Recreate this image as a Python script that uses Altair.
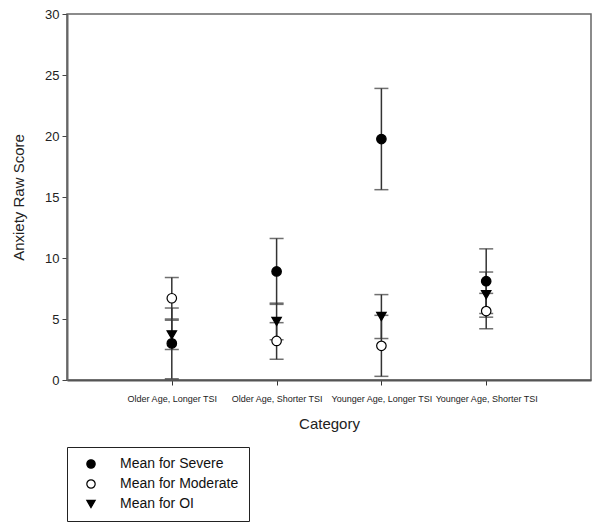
import altair as alt
import pandas as pd

categories = ["Older Age, Longer TSI", "Older Age, Shorter TSI",
              "Younger Age, Longer TSI", "Younger Age, Shorter TSI"]
series = ["Mean for Severe", "Mean for Moderate", "Mean for OI"]

severe_mean = [3.0, 8.9, 19.75, 8.1]
severe_err = [2.9, 2.7, 4.15, 2.65]
moderate_mean = [6.7, 3.2, 2.8, 5.65]
moderate_err = [1.7, 1.5, 2.5, 1.45]
oi_mean = [3.7, 4.8, 5.2, 7.0]
oi_err = [1.2, 1.5, 1.8, 1.85]

rows = []
for name, means, errs in [(series[0], severe_mean, severe_err),
                          (series[1], moderate_mean, moderate_err),
                          (series[2], oi_mean, oi_err)]:
    for i, (m, e) in enumerate(zip(means, errs)):
        rows.append({"pos": i + 1, "cat": categories[i], "series": name,
                     "mean": m, "lo": max(m - e, 0), "hi": m + e})
df = pd.DataFrame(rows)

label_expr = ("datum.value == 1 ? '%s' : datum.value == 2 ? '%s' : "
              "datum.value == 3 ? '%s' : datum.value == 4 ? '%s' : ''") % tuple(categories)

x = alt.X("pos:Q", scale=alt.Scale(domain=[0, 5], nice=False, zero=False),
          axis=alt.Axis(title="Category", values=[1, 2, 3, 4], labelExpr=label_expr,
                        grid=False, labelFont="Liberation Sans", labelFontSize=9,
                        labelOverlap=False, labelBound=False,
                        labelColor="#222", titleFont="Liberation Sans", titleFontSize=15,
                        titleFontWeight="normal", titleColor="#222", titlePadding=13,
                        domainColor="#555", domainWidth=2, tickColor="#333",
                        tickSize=5, labelPadding=9))
yscale = alt.Scale(domain=[0, 30], nice=False)
yaxis = alt.Axis(title="Anxiety Raw Score", values=[0, 5, 10, 15, 20, 25, 30], grid=False,
                 labelFont="Liberation Sans", labelFontSize=13, labelColor="#222",
                 titleFont="Liberation Sans", titleFontSize=15, titleFontWeight="normal",
                 titleColor="#222", titlePadding=18, domainColor="#666", domainWidth=2,
                 tickColor="#444", tickSize=5, labelPadding=3)

base = alt.Chart(df)

rules = base.mark_rule(color="#333", strokeWidth=1.5).encode(
    x=x, y=alt.Y("lo:Q", scale=yscale, axis=yaxis), y2="hi:Q")
caps_hi = base.mark_tick(color="#333", thickness=1.5, size=14, orient="horizontal").encode(
    x="pos:Q", y="hi:Q")
caps_lo = base.mark_tick(color="#333", thickness=1.5, size=14, orient="horizontal").encode(
    x="pos:Q", y="lo:Q")

leg = dict(title=None, orient="none", legendX=0, legendY=433,
           strokeColor="#222", padding=10, labelFontSize=14,
           labelFont="Liberation Sans", labelColor="#111",
           symbolSize=70, symbolStrokeWidth=1.2, symbolOffset=7, labelOffset=22,
           rowPadding=6, fillColor="white")

points = base.mark_point(filled=False, size=90, strokeWidth=1.2, opacity=1).encode(
    x="pos:Q", y="mean:Q",
    shape=alt.Shape("series:N", scale=alt.Scale(domain=series,
                    range=["circle", "circle", "triangle-down"]),
                    legend=alt.Legend(**leg)),
    fill=alt.Fill("series:N", scale=alt.Scale(domain=series,
                  range=["black", "white", "black"]),
                  legend=alt.Legend(**leg)),
    stroke=alt.Stroke("series:N", scale=alt.Scale(domain=series,
                      range=["black", "black", "black"]),
                      legend=alt.Legend(**leg)),
)

chart = alt.layer(rules, caps_hi, caps_lo, points).properties(
    width=524, height=366,
    padding={"left": 59, "top": 6, "right": 1, "bottom": 142},
    autosize=alt.AutoSizeParams(type="none"),
    background="white",
).configure_view(stroke="#666", strokeWidth=1.5)

chart.save("out.html", embed_options={"renderer": "svg", "actions": False})
